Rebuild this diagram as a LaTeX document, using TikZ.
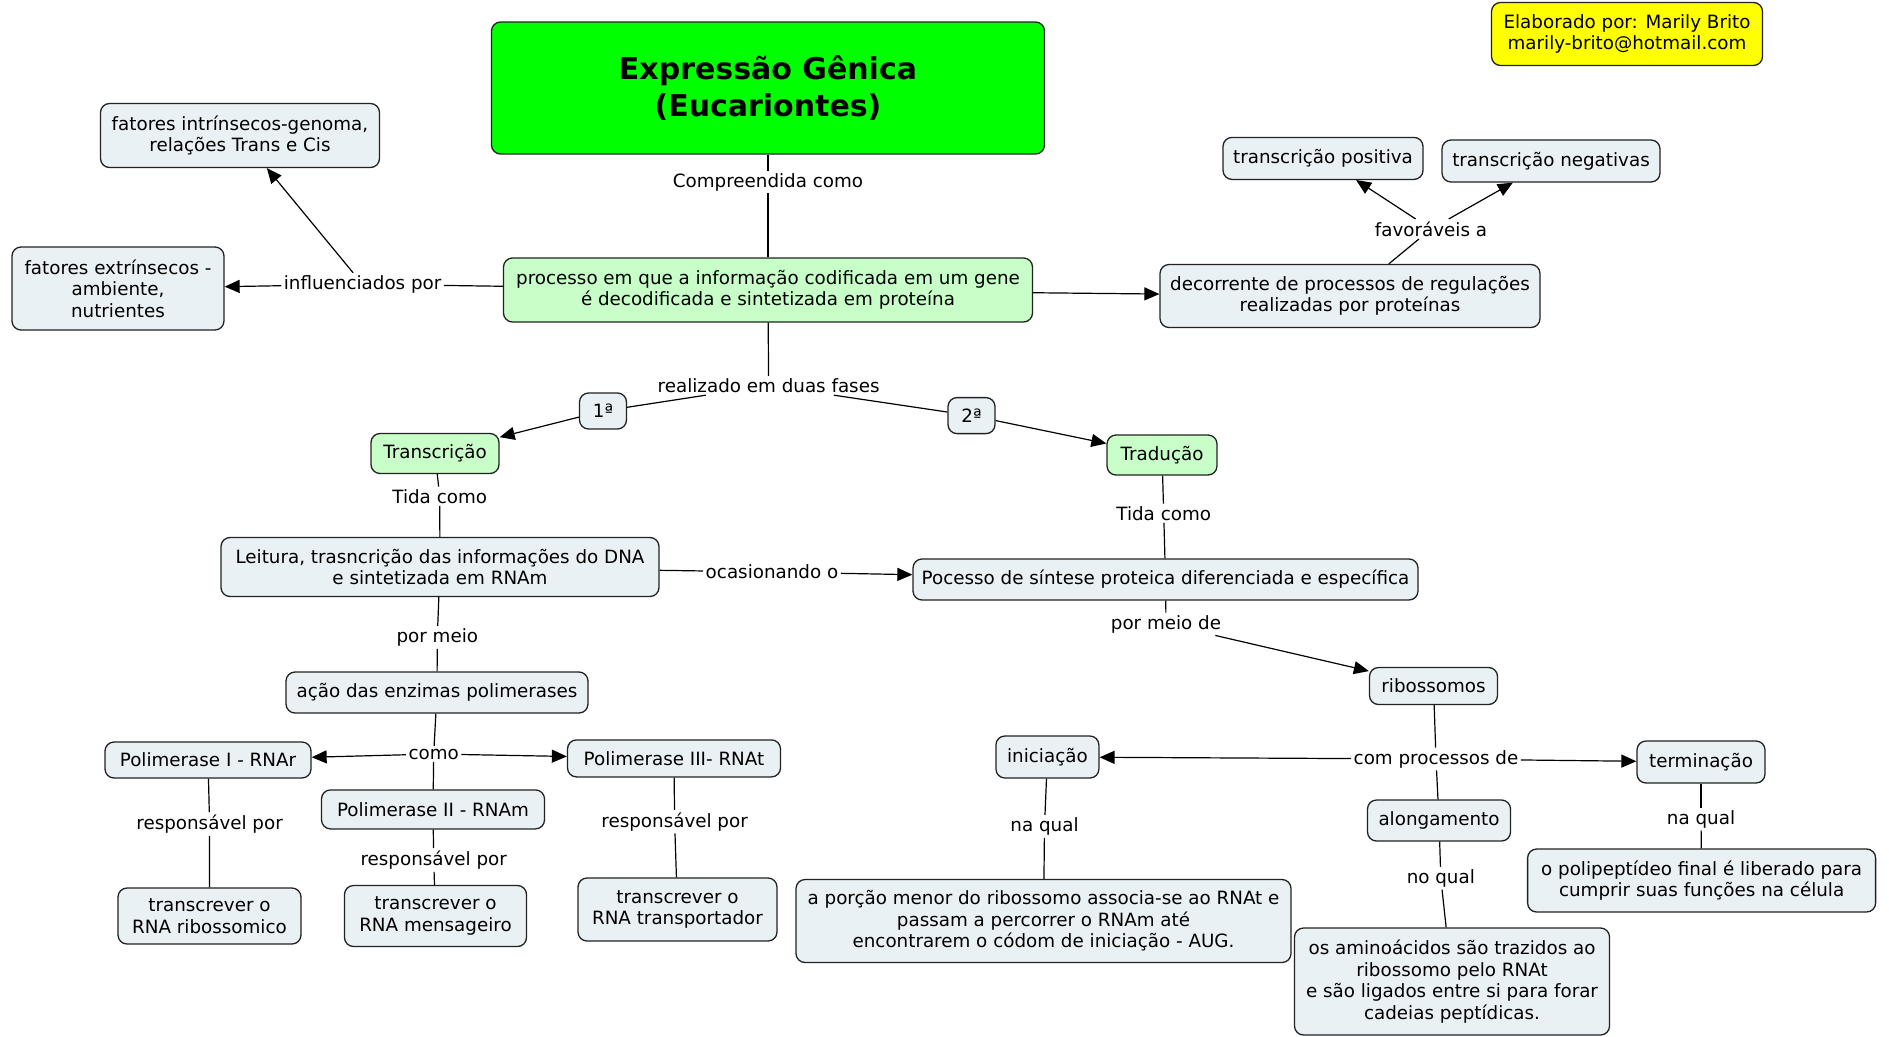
\documentclass[tikz,border=0pt]{standalone}
\usepackage{fontspec}
\setmainfont{DejaVu Sans}
\usetikzlibrary{arrows.meta}

\definecolor{caixa}{HTML}{EAF1F4}
\definecolor{verdeclaro}{HTML}{C8FFC8}
\definecolor{verde}{HTML}{00FF00}
\definecolor{amarelo}{HTML}{FFFF00}
\definecolor{borda}{HTML}{222222}

\tikzstyle{conceito}=[draw=borda, line width=1.3pt, rounded corners=9pt,
  fill=caixa, align=center, inner sep=2pt, font=\fontsize{18.3}{21.5}\selectfont]
\tikzstyle{fase}=[conceito, fill=verdeclaro]
\tikzstyle{frase}=[inner sep=2pt, font=\fontsize{18.3}{21.5}\selectfont]
\tikzstyle{seta}=[-{Triangle[length=15pt,width=13pt]}]

\begin{document}
\begin{tikzpicture}[x=1pt, y=-1pt, line width=1.2pt]
\fill[white] (0,0) rectangle (1889,1036);
\useasboundingbox (0,0) rectangle (1889,1036);
%
\draw (768,88) node[conceito, fill=verde, minimum width=553, minimum height=132,
  font=\bfseries\fontsize{30}{37}\selectfont](expr){Expressão Gênica\\(Eucariontes)};
\draw (1627,34) node[conceito, fill=amarelo, minimum width=271, minimum height=63]
  (autor){Elaborado por: Marily Brito\\marily-brito@hotmail.com};
%
\draw (768,290) node[fase, minimum width=529, minimum height=64](processo)
  {processo em que a informação codificada em um gene\\é decodificada e sintetizada em proteína};
\draw (768,182) node[frase](compr){Compreendida como};
\draw (expr) -- (compr); \draw (compr) -- (processo);
% influencias
\draw (240,135.5) node[conceito, minimum width=279, minimum height=64](intr)
  {fatores intrínsecos-genoma,\\relações Trans e Cis};
\draw (118,288.5) node[conceito, minimum width=212, minimum height=83](extr)
  {fatores extrínsecos -\\ambiente,\\nutrientes};
\draw (362.6,284.3) node[frase](influ){influenciados por};
\draw (processo) -- (influ);
\draw[seta] (influ) -- (extr); \draw[seta] (influ) -- (intr);
% regulacao
\draw (1350,296) node[conceito, minimum width=380, minimum height=63](decor)
  {decorrente de processos de regulações\\realizadas por proteínas};
\draw (1323,158.4) node[conceito, minimum width=200, minimum height=42](posit)
  {transcrição positiva};
\draw (1551,161) node[conceito, minimum width=218, minimum height=42](negat)
  {transcrição negativas};
\draw (1431,229) node[frase](favor){favoráveis a};
\draw[seta] (processo) -- (decor);
\draw (decor) -- (favor);
\draw[seta] (favor) -- (posit); \draw[seta] (favor) -- (negat);
% duas fases
\draw (768.6,385.5) node[frase](fases){realizado em duas fases};
\draw (603,411) node[conceito, minimum width=47, minimum height=36](prim){1ª};
\draw (971.5,415.6) node[conceito, minimum width=47, minimum height=36](seg){2ª};
\draw (435,453.5) node[fase, minimum width=128, minimum height=40](transc){Transcrição};
\draw (1162,455) node[fase, minimum width=110, minimum height=40](tradu){Tradução};
\draw (processo) -- (fases);
\draw (fases) -- (prim); \draw[seta] (prim) -- (transc);
\draw (fases) -- (seg); \draw[seta] (seg) -- (tradu);
% transcricao
\draw (440,567) node[conceito, minimum width=438, minimum height=59](leitura)
  {Leitura, trasncrição das informações do DNA\\e sintetizada em RNAm};
\draw (439.7,496.3) node[frase](tida1){Tida como};
\draw (transc) -- (tida1); \draw (tida1) -- (leitura);
\draw (437,692.5) node[conceito, minimum width=302, minimum height=41](acao)
  {ação das enzimas polimerases};
\draw (437.3,637.3) node[frase](meio1){por meio};
\draw (leitura) -- (meio1); \draw (meio1) -- (acao);
%
\draw (208,760) node[conceito, minimum width=206, minimum height=36](pol1)
  {Polimerase I - RNAr};
\draw (433,809.4) node[conceito, minimum width=223, minimum height=39](pol2)
  {Polimerase II - RNAm};
\draw (674,758.4) node[conceito, minimum width=213, minimum height=37](pol3)
  {Polimerase III- RNAt};
\draw (433.7,754) node[frase](como){como};
\draw (acao) -- (como);
\draw[seta] (como) -- (pol1); \draw[seta] (como) -- (pol3); \draw (como) -- (pol2);
%
\draw (209.5,916) node[conceito, minimum width=183, minimum height=56](rnar)
  {transcrever o\\RNA ribossomico};
\draw (435.5,916) node[conceito, minimum width=182, minimum height=61](rnam)
  {transcrever o\\RNA mensageiro};
\draw (677.5,909.5) node[conceito, minimum width=199, minimum height=63](rnat)
  {transcrever o\\RNA transportador};
\draw (209.6,824) node[frase](resp1){responsável por};
\draw (433.7,860) node[frase](resp2){responsável por};
\draw (674.6,821.6) node[frase](resp3){responsável por};
\draw (pol1) -- (resp1); \draw (resp1) -- (rnar);
\draw (pol2) -- (resp2); \draw (resp2) -- (rnam);
\draw (pol3) -- (resp3); \draw (resp3) -- (rnat);
% traducao
\draw (1165.5,579.5) node[conceito, minimum width=505, minimum height=41](sintese)
  {Pocesso de síntese proteica diferenciada e específica};
\draw (1163.7,513.2) node[frase](tida2){Tida como};
\draw (tradu) -- (tida2); \draw (tida2) -- (sintese);
\draw (772,572) node[frase](ocas){ocasionando o};
\draw (leitura) -- (ocas); \draw[seta] (ocas) -- (sintese);
\draw (1433.5,686) node[conceito, minimum width=128, minimum height=37](ribo){ribossomos};
\draw (1166,624) node[frase](meio2){por meio de};
\draw (sintese) -- (meio2); \draw[seta] (meio2) -- (ribo);
%
\draw (1047.4,757) node[conceito, minimum width=103, minimum height=42](inic){iniciação};
\draw (1439,820.5) node[conceito, minimum width=143, minimum height=41](along){alongamento};
\draw (1701,762) node[conceito, minimum width=128, minimum height=42](termi){terminação};
\draw (1436,759) node[frase](proc){com processos de};
\draw (ribo) -- (proc);
\draw[seta] (proc) -- (inic); \draw[seta] (proc) -- (termi); \draw (proc) -- (along);
%
\draw (1043.5,921) node[conceito, minimum width=495, minimum height=83](porcao)
  {a porção menor do ribossomo associa-se ao RNAt e\\passam a percorrer o RNAm até\\encontrarem o códom de iniciação - AUG.};
\draw (1452,981.5) node[conceito, minimum width=315, minimum height=107](amino)
  {os aminoácidos são trazidos ao\\ribossomo pelo RNAt\\e são ligados entre si para forar\\cadeias peptídicas.};
\draw (1701.6,880.5) node[conceito, minimum width=348, minimum height=63](polip)
  {o polipeptídeo final é liberado para\\cumprir suas funções na célula};
\draw (1044.5,826.4) node[frase](qual1){na qual};
\draw (1440.8,878.2) node[frase](qual2){no qual};
\draw (1701,819) node[frase](qual3){na qual};
\draw (inic) -- (qual1); \draw (qual1) -- (porcao);
\draw (along) -- (qual2); \draw (qual2) -- (amino);
\draw (termi) -- (qual3); \draw (qual3) -- (polip);
\end{tikzpicture}
\end{document}
